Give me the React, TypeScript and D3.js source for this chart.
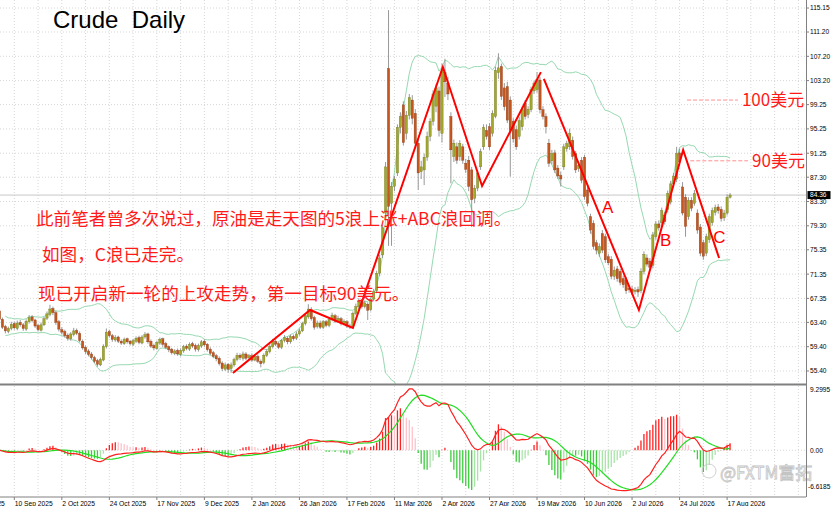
import * as d3 from "d3";
import React from "react";

// daily candles (bar 0 .. 246)
const opens = [
  65.3, 63.9, 62.7, 61.9, 62.4, 63.2, 62.4, 63.4, 63.0, 62.3,
  63.5, 64.3, 63.8, 62.9, 62.1, 63.0, 64.1, 64.7, 65.7, 65.0,
  63.5, 62.2, 61.9, 61.3, 60.7, 61.4, 62.1, 61.6, 60.3, 59.3,
  58.7, 58.2, 57.6, 57.1, 56.4, 57.2, 59.4, 61.9, 61.2, 60.5,
  61.0, 60.3, 59.9, 60.7, 60.3, 59.8, 60.3, 60.9, 60.0, 61.0,
  61.5, 60.3, 59.6, 59.1, 60.0, 60.7, 59.9, 59.4, 59.0, 58.3,
  58.8, 58.1, 58.7, 59.5, 59.0, 59.9, 59.6, 58.9, 59.5, 60.3,
  59.8, 59.0, 58.4, 57.9, 57.5, 56.7, 55.7, 56.5, 55.8, 56.4,
  57.3, 58.0, 57.5, 58.2, 57.6, 57.9, 57.2, 57.8, 57.0, 56.8,
  58.0, 58.6, 59.4, 60.3, 59.9, 59.3, 60.4, 60.8, 60.2, 61.1,
  60.8, 61.5, 62.0, 63.2, 64.3, 65.5, 64.2, 62.7, 63.3, 62.6,
  63.5, 62.9, 63.9, 64.5, 63.6, 64.0, 63.2, 63.5, 62.8, 62.8,
  64.9, 66.0, 66.8, 66.0, 66.4, 65.5, 67.2, 68.6, 71.5, 74.5,
  81.4, 105.2, 83.0, 85.8, 88.0, 95.5, 99.2, 94.5, 97.5, 100.0,
  97.8, 92.9, 88.2, 88.5, 90.6, 94.0, 96.5, 99.0, 101.5, 94.5,
  104.5, 102.8, 97.3, 90.7, 92.3, 90.7, 92.3, 89.6, 90.1, 88.5,
  83.8, 85.5, 89.0, 92.3, 95.0, 95.6, 94.5, 97.3, 104.5, 105.5,
  102.0, 102.2, 100.0, 96.5, 95.1, 94.0, 95.6, 99.5, 97.6, 98.4,
  101.5, 101.7, 103.3, 98.4, 97.3, 92.9, 90.0, 91.3, 88.8, 87.6,
  89.0, 92.0, 92.3, 93.4, 91.2, 88.7, 90.1, 90.6, 85.2, 80.8,
  79.7, 76.5, 74.8, 78.0, 77.5, 74.2, 73.8, 71.0, 72.2, 71.8,
  70.6, 70.4, 69.0, 68.9, 68.5, 68.8, 68.6, 71.8, 74.0, 73.5,
  72.8, 77.5, 79.6, 79.8, 81.0, 82.0, 83.2, 86.2, 87.0, 91.3,
  85.7, 84.0, 80.8, 83.5, 83.0, 81.4, 79.1, 76.5, 74.8, 77.0,
  79.8, 81.5, 82.4, 82.0, 80.6, 81.4, 84.0,
];
const highs = [
  65.8, 64.2, 63.0, 62.7, 63.5, 63.5, 63.7, 63.8, 63.3, 63.9,
  64.6, 64.6, 64.0, 63.2, 63.4, 64.3, 65.2, 66.3, 66.0, 65.3,
  63.8, 62.6, 62.2, 61.6, 61.8, 62.5, 62.4, 61.9, 60.6, 59.6,
  59.0, 58.5, 57.9, 57.4, 57.6, 59.8, 62.4, 62.2, 61.5, 61.3,
  61.2, 60.6, 60.9, 60.9, 60.5, 60.7, 61.1, 61.2, 61.3, 61.8,
  61.7, 60.6, 59.9, 60.4, 60.9, 60.9, 60.2, 59.6, 59.2, 59.0,
  59.1, 59.1, 59.7, 59.8, 60.1, 60.2, 59.9, 59.9, 60.5, 60.6,
  60.0, 59.3, 58.7, 58.2, 57.8, 57.0, 56.8, 56.7, 56.8, 57.6,
  58.4, 58.3, 58.6, 58.5, 58.2, 58.3, 58.1, 58.1, 57.3, 58.3,
  59.0, 59.8, 60.7, 60.6, 60.2, 60.7, 61.3, 61.1, 61.4, 61.4,
  61.9, 62.4, 63.5, 64.8, 66.4, 65.9, 64.5, 63.7, 63.7, 63.8,
  63.8, 64.3, 65.0, 64.8, 64.5, 64.3, 63.9, 63.8, 63.2, 65.2,
  66.5, 67.4, 67.1, 67.0, 66.7, 67.5, 68.9, 71.9, 74.5, 79.5,
  89.8, 114.8, 86.5, 87.5, 96.0, 98.0, 99.8, 98.2, 101.0, 100.8,
  98.5, 93.5, 90.0, 91.2, 94.8, 97.0, 101.6, 102.6, 102.2, 106.0,
  106.8, 103.8, 98.0, 93.5, 93.0, 93.4, 92.8, 90.3, 90.8, 89.0,
  86.0, 88.5, 92.0, 96.0, 96.0, 96.2, 98.3, 105.5, 107.7, 106.0,
  102.8, 103.0, 100.6, 97.0, 95.8, 97.2, 98.9, 100.0, 99.0, 102.2,
  103.2, 104.6, 103.8, 99.0, 97.8, 93.6, 91.8, 91.8, 89.3, 88.2,
  92.8, 93.3, 95.3, 94.0, 91.6, 89.8, 90.6, 91.0, 85.7, 81.3,
  80.2, 77.0, 76.4, 78.6, 78.0, 74.7, 74.3, 72.6, 72.7, 72.2,
  71.1, 70.9, 69.5, 69.4, 69.2, 69.3, 72.3, 75.1, 74.6, 74.0,
  78.3, 80.1, 80.2, 82.3, 81.6, 85.1, 86.7, 88.0, 92.3, 92.0,
  86.5, 84.5, 84.0, 84.0, 85.2, 82.0, 79.6, 77.0, 78.0, 81.3,
  82.3, 82.8, 82.9, 82.5, 81.9, 84.5, 84.7,
];
const lows = [
  63.5, 62.3, 61.6, 61.6, 62.1, 62.2, 62.1, 62.7, 62.0, 62.0,
  63.2, 63.4, 62.5, 61.9, 61.9, 62.8, 63.8, 64.4, 64.6, 63.0,
  61.9, 61.4, 60.9, 60.4, 60.4, 61.1, 61.3, 60.1, 58.9, 58.2,
  57.8, 57.3, 56.7, 56.1, 56.2, 57.0, 59.1, 60.9, 60.2, 60.2,
  60.0, 59.7, 59.7, 59.9, 59.6, 59.5, 60.0, 59.8, 59.8, 60.7,
  59.9, 59.2, 58.8, 58.9, 59.7, 59.4, 59.0, 58.5, 58.1, 58.0,
  57.9, 57.8, 58.4, 58.8, 58.7, 59.2, 58.6, 58.6, 59.2, 59.4,
  58.6, 58.0, 57.5, 57.0, 56.3, 55.4, 55.4, 55.1, 55.1, 56.1,
  57.0, 57.2, 57.1, 57.2, 57.3, 56.9, 57.0, 56.7, 56.0, 56.5,
  57.7, 58.3, 59.1, 59.5, 59.0, 59.0, 60.1, 59.8, 59.9, 60.4,
  60.5, 61.2, 61.8, 62.9, 64.0, 63.7, 62.2, 62.4, 62.3, 62.3,
  62.6, 62.6, 63.6, 63.3, 63.3, 62.9, 62.9, 62.5, 62.3, 62.5,
  64.6, 65.6, 65.7, 65.7, 63.8, 65.2, 66.9, 68.2, 71.0, 74.0,
  80.5, 76.0, 76.0, 85.0, 87.5, 94.5, 92.5, 93.5, 96.8, 96.0,
  92.0, 85.2, 87.0, 86.0, 90.0, 93.2, 95.8, 98.0, 94.0, 93.0,
  100.5, 100.0, 86.3, 89.8, 89.5, 90.0, 89.5, 88.0, 85.0, 79.1,
  83.0, 85.0, 88.5, 91.8, 93.5, 91.8, 94.0, 97.0, 103.5, 100.0,
  98.3, 96.2, 87.4, 93.0, 91.8, 93.5, 95.0, 96.8, 97.0, 98.0,
  101.0, 101.2, 97.8, 96.8, 94.5, 89.0, 89.4, 88.0, 87.0, 85.8,
  88.5, 91.5, 91.8, 90.2, 88.0, 88.2, 86.3, 83.6, 82.5, 78.0,
  75.4, 74.6, 74.2, 74.8, 73.2, 72.8, 70.5, 70.4, 70.1, 69.5,
  69.1, 68.1, 68.3, 67.9, 68.0, 67.6, 68.2, 71.3, 72.6, 72.0,
  72.3, 77.0, 78.5, 79.3, 79.5, 81.5, 82.8, 85.6, 86.5, 89.2,
  81.0, 77.5, 80.3, 81.7, 82.6, 78.0, 74.3, 73.7, 74.3, 76.5,
  79.3, 81.0, 81.3, 80.0, 80.1, 81.0, 83.8,
];
const closes = [
  63.9, 62.6, 62.0, 62.4, 63.1, 62.5, 63.3, 63.0, 62.4, 63.6,
  64.2, 63.7, 62.8, 62.2, 63.0, 64.0, 64.8, 65.6, 65.0, 63.4,
  62.3, 61.8, 61.2, 60.8, 61.5, 62.0, 61.6, 60.4, 59.2, 58.6,
  58.1, 57.6, 57.0, 56.5, 57.3, 59.5, 61.8, 61.2, 60.6, 60.9,
  60.3, 60.0, 60.6, 60.2, 59.9, 60.4, 60.8, 60.1, 61.0, 61.4,
  60.2, 59.5, 59.2, 60.1, 60.6, 59.8, 59.3, 58.9, 58.4, 58.7,
  58.2, 58.8, 59.4, 59.1, 59.8, 59.5, 59.0, 59.6, 60.2, 59.7,
  58.9, 58.3, 57.8, 57.4, 56.6, 55.8, 56.4, 55.7, 56.4, 57.3,
  58.0, 57.6, 58.2, 57.5, 57.9, 57.2, 57.8, 57.0, 56.6, 58.0,
  58.6, 59.4, 60.3, 59.8, 59.3, 60.4, 60.9, 60.2, 61.1, 60.7,
  61.5, 62.0, 63.2, 64.5, 65.6, 64.0, 62.6, 63.3, 62.6, 63.5,
  62.9, 63.9, 64.6, 63.6, 64.1, 63.2, 63.6, 62.8, 62.7, 64.9,
  66.0, 66.9, 66.0, 66.6, 65.4, 67.2, 68.5, 71.5, 74.0, 79.0,
  89.0, 82.5, 85.8, 87.0, 95.5, 97.3, 93.0, 97.5, 100.4, 97.0,
  92.9, 88.0, 89.0, 90.6, 94.0, 96.5, 101.0, 102.0, 95.0, 104.8,
  103.0, 101.0, 91.8, 92.9, 90.1, 92.9, 90.1, 88.6, 85.8, 83.6,
  85.5, 88.0, 91.5, 95.5, 94.0, 92.3, 97.8, 104.9, 105.3, 100.6,
  98.9, 96.7, 95.0, 93.6, 92.3, 96.6, 98.4, 97.3, 98.5, 101.7,
  102.8, 103.4, 98.4, 97.3, 95.6, 89.6, 91.2, 88.5, 87.5, 87.0,
  92.3, 92.8, 94.5, 90.7, 88.5, 89.2, 86.8, 84.1, 83.0, 78.6,
  75.9, 75.3, 75.9, 75.3, 73.7, 73.2, 71.0, 72.0, 70.6, 70.0,
  69.6, 68.6, 68.8, 68.3, 68.7, 68.4, 71.8, 74.6, 73.0, 72.5,
  77.8, 79.6, 79.0, 81.8, 80.0, 84.6, 86.2, 87.5, 91.2, 89.8,
  81.4, 79.2, 83.5, 82.2, 84.6, 78.6, 74.8, 74.3, 77.5, 80.8,
  81.8, 82.3, 81.8, 80.5, 81.4, 84.0, 84.36,
];

// x-axis labels, one every 16 bars
const dateLabels = [
  "19 Aug 2025", "10 Sep 2025", "2 Oct 2025", "24 Oct 2025", "17 Nov 2025",
  "9 Dec 2025", "2 Jan 2026", "26 Jan 2026", "17 Feb 2026", "11 Mar 2026",
  "2 Apr 2026", "27 Apr 2026", "19 May 2026", "10 Jun 2026", "2 Jul 2026",
  "24 Jul 2026", "17 Aug 2026",
];
const priceTicks = [
  115.15, 111.2, 107.2, 103.2, 99.25, 95.25, 91.25, 87.3, 83.3, 79.3,
  75.35, 71.35, 67.35, 63.4, 59.4, 55.4,
];
const macdTicks = [9.2995, 0, -6.6185];
const lastPrice = 84.36;

// hand-drawn wave count (bar position, price)
const waveBars = [78.6, 104.6, 119.0, 149.3, 162.5, 182.3];
const wavePrices = [55.07, 65.44, 62.48, 105.44, 85.85, 104.6];
const abcBars = [183.3, 215.3, 230.2, 242.3];
const abcPrices = [103.47, 65.44, 91.78, 74.0];
const abcNames = ["A", "B", "C"];
const abcNameBars = [202.9, 222.4, 240.3];
const abcNamePrices = [81.4, 75.97, 76.47];

// target levels
const targetPrices = [100, 90];
const targetNames = ["100美元", "90美元"];
const targetFromBars = [231.5, 232.6];
const targetTextBars = [250.0, 253.4];

const notes = [
  "此前笔者曾多次说过，原油是走天图的5浪上涨+ABC浪回调。",
  "如图，C浪已走完。",
  "现已开启新一轮的上攻走势，第一目标90美元。",
];

const W = 832;
const H = 506;
const RIGHT = 806;
const MAIN_BOTTOM = 384;
const MACD_TOP = 386;
const MACD_BOTTOM = 496;
const STEP = 2.97;
const X0 = -0.55;
const LATIN = "'Liberation Sans', Arial, sans-serif";
const CJK = "'Noto Sans CJK SC', 'Liberation Sans', sans-serif";

function ema(vals: number[], n: number) {
  const k = 2 / (n + 1);
  const out: number[] = [];
  vals.forEach((v, i) => out.push(i === 0 ? v : v * k + out[i - 1] * (1 - k)));
  return out;
}

const App: React.FC = () => {
  const n = closes.length;
  const x = d3.scaleLinear().domain([0, n - 1]).range([X0, X0 + STEP * (n - 1)]);
  const y = d3.scaleLinear().domain([53.26, 116.47]).range([MAIN_BOTTOM, 0]);
  const ym = d3.scaleLinear().domain([-6.6185, 9.2995]).range([MACD_BOTTOM, MACD_TOP]);

  // Bollinger bands 20, 2
  const bbStart = 2;
  const upper: number[] = [];
  const lower: number[] = [];
  for (let i = bbStart; i < n; i++) {
    const win = closes.slice(Math.max(0, i - 19), i + 1);
    const m = d3.mean(win) as number;
    const sd = Math.sqrt(d3.mean(win, (c) => (c - m) ** 2) as number);
    upper.push(m + 2 * sd);
    lower.push(m - 2 * sd);
  }
  const bandLine = d3
    .line<number>()
    .x((_, i) => x(i + bbStart))
    .y((v) => y(v));

  // MACD 12, 26, 9
  const e12 = ema(closes, 12);
  const e26 = ema(closes, 26);
  const macd = e12.map((v, i) => v - e26[i]);
  const signal = macd.map((_, i) => d3.mean(macd.slice(Math.max(0, i - 8), i + 1)) as number);
  const hist = macd.map((v, i) => (v - signal[i]) * 2);
  const macdLine = d3
    .line<number>()
    .x((_, i) => x(i))
    .y((v) => ym(v));

  const wavePath = d3
    .line<number>()
    .x((b) => x(b))
    .y((_, i) => y(wavePrices[i]))(waveBars);
  const abcPath = d3
    .line<number>()
    .x((b) => x(b))
    .y((_, i) => y(abcPrices[i]))(abcBars);

  const gridBars: number[] = [];
  for (let b = -3; x(b) < RIGHT; b += 8) gridBars.push(b);

  return (
    <svg
      width={W}
      height={H}
      style={{ position: "absolute", left: 0, top: 0, background: "#fff" }}
      fontFamily={LATIN}
    >
      <defs>
        <clipPath id="main">
          <rect x={0} y={0} width={RIGHT} height={MAIN_BOTTOM} />
        </clipPath>
        <clipPath id="sub">
          <rect x={0} y={MACD_TOP} width={RIGHT} height={MACD_BOTTOM - MACD_TOP} />
        </clipPath>
      </defs>
      <rect width={W} height={H} fill="#fff" />

      {/* grid */}
      <g stroke="#c6c6c6" strokeWidth={0.7} strokeDasharray="1 2">
        {priceTicks.map((p) => (
          <line key={p} x1={0} x2={RIGHT} y1={y(p)} y2={y(p)} />
        ))}
        {gridBars.map((b) => (
          <g key={b}>
            <line x1={x(b)} x2={x(b)} y1={0} y2={MAIN_BOTTOM} />
            <line x1={x(b)} x2={x(b)} y1={MACD_TOP} y2={MACD_BOTTOM} />
          </g>
        ))}
        <line x1={0} x2={RIGHT} y1={ym(0)} y2={ym(0)} />
      </g>

      {/* last price line */}
      <line x1={0} x2={RIGHT} y1={y(lastPrice)} y2={y(lastPrice)} stroke="#c8c8c8" strokeWidth={1} />

      <g clipPath="url(#main)">
        {/* Bollinger */}
        <g fill="none" stroke="#96d9b0" strokeWidth={1}>
          <path d={bandLine(upper) ?? ""} />
          <path d={bandLine(lower) ?? ""} />
        </g>

        {/* candles */}
        {closes.map((c, i) => {
          const o = opens[i];
          const up = c >= o;
          const top = y(Math.max(o, c));
          const bot = y(Math.min(o, c));
          return (
            <g key={i}>
              <line x1={x(i)} x2={x(i)} y1={y(highs[i])} y2={y(lows[i])} stroke="#8c8c8c" strokeWidth={0.9} />
              <rect
                x={x(i) - 1.15}
                y={top}
                width={2.3}
                height={Math.max(bot - top, 0.9)}
                fill={up ? "#a2a82a" : "#c4561e"}
                stroke={up ? "#6f7420" : "#8a3c16"}
                strokeWidth={0.35}
              />
            </g>
          );
        })}

        {/* wave count */}
        <g fill="none" stroke="#ff0000" strokeWidth={2}>
          <path d={wavePath ?? ""} />
          <path d={abcPath ?? ""} />
        </g>
        {abcNames.map((t, i) => (
          <text key={t} x={x(abcNameBars[i])} y={y(abcNamePrices[i])} fontSize={17} fill="#ff0000">
            {t}
          </text>
        ))}

        {/* targets */}
        {targetPrices.map((p, i) => (
          <line
            key={p}
            x1={x(targetFromBars[i])}
            x2={x(targetTextBars[i]) - 4}
            y1={y(p)}
            y2={y(p)}
            stroke="#ff9090"
            strokeWidth={1}
            strokeDasharray="4 2"
          />
        ))}
      </g>
      {targetPrices.map((p, i) => (
        <text key={p} x={x(targetTextBars[i])} y={y(p) + 6} fontSize={17} fill="#ff1a1a" fontFamily={CJK}>
          {targetNames[i]}
        </text>
      ))}

      {/* notes */}
      <g fill="#ff1a1a" fontFamily={CJK} fontSize={17.6}>
        <text x={36} y={225}>{notes[0]}</text>
        <text x={42} y={261}>{notes[1]}</text>
        <text x={38} y={300}>{notes[2]}</text>
      </g>

      <text x={53} y={28} fontSize={24} fill="#000">
        Crude&#160;&#160;Daily
      </text>

      {/* MACD panel */}
      <g clipPath="url(#sub)">
        {hist.map((h, i) => {
          const prev = i > 0 ? hist[i - 1] : 0;
          const col =
            h >= 0 ? (h >= prev ? "#ff2020" : "#ffc2ca") : h <= prev ? "#3ccc3c" : "#a8e4a8";
          return (
            <line key={i} x1={x(i)} x2={x(i)} y1={ym(0)} y2={ym(h)} stroke={col} strokeWidth={1.3} />
          );
        })}
        <path d={macdLine(signal) ?? ""} fill="none" stroke="#22dd22" strokeWidth={1.2} />
        <path d={macdLine(macd) ?? ""} fill="none" stroke="#ff2020" strokeWidth={1.2} />
      </g>

      {/* watermark */}
      <g fill="#fff" stroke="#c4c4c4" strokeWidth={0.8}>
        <circle cx={709} cy={471} r={7} fill="none" />
        <text x={720} y={479} fontSize={17} fontFamily={CJK}>
          @FXTM富拓
        </text>
      </g>

      {/* frames */}
      <line x1={0} x2={RIGHT} y1={MAIN_BOTTOM + 0.5} y2={MAIN_BOTTOM + 0.5} stroke="#808080" strokeWidth={2} />
      <line x1={0} x2={RIGHT} y1={MACD_BOTTOM + 1} y2={MACD_BOTTOM + 1} stroke="#808080" strokeWidth={1} />
      <line x1={RIGHT + 0.5} x2={RIGHT + 0.5} y1={0} y2={MACD_BOTTOM + 1} stroke="#808080" strokeWidth={1} />

      {/* right axis */}
      <g fontSize={6.6} fill="#000">
        {priceTicks.map((p) => (
          <g key={p}>
            <line x1={RIGHT} x2={RIGHT + 3} y1={y(p)} y2={y(p)} stroke="#808080" />
            <text x={810} y={y(p) + 2.4}>
              {p.toFixed(2)}
            </text>
          </g>
        ))}
        <rect x={807.5} y={y(lastPrice) - 4} width={23} height={8} fill="#000" />
        <text x={810} y={y(lastPrice) + 2.4} fill="#fff">
          {lastPrice.toFixed(2)}
        </text>
        {macdTicks.map((v) => (
          <text
            key={v}
            x={v < 0 ? 808 : 810}
            y={Math.min(Math.max(ym(v), MACD_TOP + 4), MACD_BOTTOM - 9) + 2.4}
          >
            {v === 0 ? "0.00" : String(v)}
          </text>
        ))}
      </g>

      {/* bottom axis */}
      <g fontSize={6.7} fill="#000">
        {dateLabels.map((d, k) => {
          const b = -11 + 16 * k;
          return (
            <g key={d}>
              <line x1={x(b)} x2={x(b)} y1={MACD_BOTTOM + 1} y2={MACD_BOTTOM + 4} stroke="#808080" />
              <text x={x(b) + 0.5} y={505.5}>
                {d}
              </text>
            </g>
          );
        })}
      </g>
    </svg>
  );
};

export default App;
